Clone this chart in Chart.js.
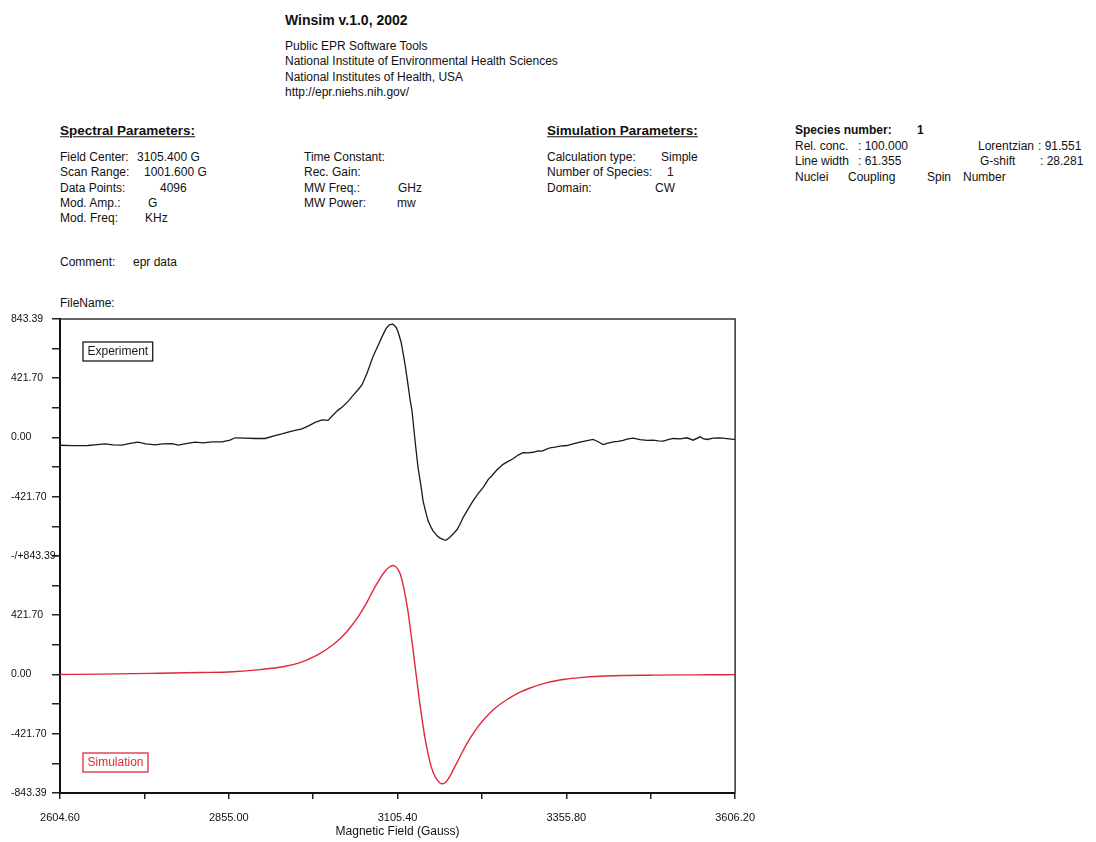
<!DOCTYPE html>
<html>
<head>
<meta charset="utf-8">
<title>Winsim EPR spectrum</title>
<script src="https://cdn.jsdelivr.net/npm/chart.js@4.4.1/dist/chart.umd.min.js"></script>
<style>
  body { margin: 0; background: #fff; width: 1096px; height: 842px; overflow: hidden; position: relative;
         font-family: "Liberation Sans", Arial, Helvetica, sans-serif; color: #111; }
  .t { position: absolute; font-size: 12px; line-height: 1; white-space: pre; transform: translateY(-50%); }
  .b { font-weight: bold; }
  .h { font-weight: bold; font-size: 13.5px; text-decoration: underline; }
  #wrap { position: absolute; left: 0; top: 305px; width: 767px; height: 537px; }
</style>
</head>
<body>

<!-- header block -->
<div class="t b" style="left:285px; top:20px; font-size:14px;">Winsim v.1.0, 2002</div>
<div class="t" style="left:285px; top:45.5px;">Public EPR Software Tools</div>
<div class="t" style="left:285px; top:61px;">National Institute of Environmental Health Sciences</div>
<div class="t" style="left:285px; top:76.5px;">National Institutes of Health, USA</div>
<div class="t" style="left:285px; top:92px;">http://epr.niehs.nih.gov/</div>

<!-- spectral parameters -->
<div class="t h" style="left:60px; top:131px;">Spectral Parameters:</div>
<div class="t" style="left:60px; top:157px;">Field Center:</div><div class="t" style="left:137px; top:157px;">3105.400 G</div>
<div class="t" style="left:60px; top:172px;">Scan Range:</div><div class="t" style="left:144px; top:172px;">1001.600 G</div>
<div class="t" style="left:60px; top:188px;">Data Points:</div><div class="t" style="left:160px; top:188px;">4096</div>
<div class="t" style="left:60px; top:203px;">Mod. Amp.:</div><div class="t" style="left:148px; top:203px;">G</div>
<div class="t" style="left:60px; top:218px;">Mod. Freq:</div><div class="t" style="left:145px; top:218px;">KHz</div>
<div class="t" style="left:304px; top:157px;">Time Constant:</div>
<div class="t" style="left:304px; top:172px;">Rec. Gain:</div>
<div class="t" style="left:304px; top:188px;">MW Freq.:</div><div class="t" style="left:398px; top:188px;">GHz</div>
<div class="t" style="left:304px; top:203px;">MW Power:</div><div class="t" style="left:397px; top:203px;">mw</div>
<div class="t" style="left:60px; top:262px;">Comment:</div><div class="t" style="left:133px; top:262px;">epr data</div>
<div class="t" style="left:60px; top:303px;">FileName:</div>

<!-- simulation parameters -->
<div class="t h" style="left:547px; top:131px;">Simulation Parameters:</div>
<div class="t" style="left:547px; top:157px;">Calculation type:</div><div class="t" style="left:661px; top:157px;">Simple</div>
<div class="t" style="left:547px; top:172px;">Number of Species:</div><div class="t" style="left:667px; top:172px;">1</div>
<div class="t" style="left:547px; top:188px;">Domain:</div><div class="t" style="left:655px; top:188px;">CW</div>

<!-- species -->
<div class="t b" style="left:795px; top:130px;">Species number:</div><div class="t b" style="left:917px; top:130px;">1</div>
<div class="t" style="left:795px; top:146px;">Rel. conc.</div><div class="t" style="left:858px; top:146px;">: 100.000</div>
<div class="t" style="left:978px; top:146px;">Lorentzian</div><div class="t" style="left:1038px; top:146px;">: 91.551</div>
<div class="t" style="left:795px; top:161px;">Line width</div><div class="t" style="left:858px; top:161px;">: 61.355</div>
<div class="t" style="left:980px; top:161px;">G-shift</div><div class="t" style="left:1040px; top:161px;">: 28.281</div>
<div class="t" style="left:795px; top:177px;">Nuclei</div><div class="t" style="left:848px; top:177px;">Coupling</div>
<div class="t" style="left:927px; top:177px;">Spin</div><div class="t" style="left:963px; top:177px;">Number</div>

<div id="wrap"><canvas id="eprChart" width="767" height="537"></canvas></div>

<script>
// measured spectrum: magnetic field (G) and signal
const expField = [2604.6, 2622.4, 2646.1, 2659.5, 2671.4, 2683.2, 2696.6, 2708.5, 2720.3, 2732.2,
  2745.6, 2757.4, 2770.8, 2779.7, 2791.6, 2804.9, 2816.8, 2830.2, 2845.0, 2856.9,
  2864.3, 2879.1, 2894.0, 2908.8, 2923.6, 2934.0, 2942.9, 2953.3, 2963.7, 2974.1,
  2983.0, 2993.4, 3002.3, 3009.7, 3017.1, 3023.0, 3032.0, 3039.4, 3046.8, 3052.7,
  3060.1, 3069.0, 3076.5, 3082.4, 3088.3, 3092.8, 3098.3, 3103.2, 3106.1, 3110.6,
  3113.6, 3116.5, 3119.5, 3124.0, 3126.9, 3131.4, 3135.8, 3140.3, 3143.2, 3147.7,
  3150.7, 3155.1, 3158.1, 3164.0, 3168.5, 3174.4, 3177.4, 3181.8, 3187.8, 3193.7,
  3198.1, 3202.6, 3208.5, 3213.0, 3217.4, 3224.9, 3232.3, 3239.7, 3245.6, 3253.0,
  3262.0, 3269.4, 3276.8, 3284.2, 3291.6, 3299.0, 3306.5, 3313.9, 3319.8, 3325.8,
  3331.7, 3339.1, 3346.5, 3356.9, 3365.8, 3376.2, 3386.6, 3395.5, 3402.9, 3410.3,
  3417.8, 3425.2, 3432.6, 3440.0, 3447.4, 3454.8, 3465.2, 3475.6, 3484.5, 3491.9,
  3499.4, 3506.8, 3514.2, 3524.6, 3535.0, 3543.9, 3554.3, 3558.7, 3564.7, 3573.6,
  3583.9, 3594.3, 3603.2, 3606.2];
const expSignal = [-55, -58, -57, -50, -45, -52, -54, -42, -33, -45,
  -52, -46, -43, -54, -44, -33, -38, -31, -31, -18,
  -2, -5, -7, -7, 14, 25, 38, 50, 62, 85,
  108, 125, 122, 160, 195, 215, 257, 300, 340, 376,
  458, 576, 655, 718, 775, 800, 808, 785, 753, 680,
  600, 520, 423, 270, 187, -26, -215, -350, -451, -540,
  -593, -640, -664, -700, -716, -728, -730, -715, -687, -655,
  -617, -570, -522, -485, -451, -400, -357, -300, -270, -230,
  -191, -170, -151, -125, -108, -110, -105, -95, -97, -85,
  -73, -68, -62, -57, -45, -33, -22, -14, -30, -50,
  -40, -31, -28, -21, -10, -5, -15, -21, -18, -24,
  -26, -15, -7, -10, -2, -19, 5, -8, -14, -5,
  -2, -8, -14, -14];

// simulated spectrum
const simField = [2604.6, 2664.0, 2738.1, 2812.3, 2861.3, 2901.4, 2935.5, 2960.7, 2986.0, 3009.7,
  3023.0, 3034.9, 3046.8, 3060.1, 3067.6, 3075.0, 3080.9, 3086.9, 3092.8, 3098.3,
  3103.2, 3109.1, 3113.6, 3116.5, 3121.0, 3124.0, 3128.4, 3131.4, 3135.8, 3138.8,
  3143.2, 3146.2, 3150.7, 3153.6, 3158.1, 3164.0, 3171.0, 3175.9, 3180.3, 3186.3,
  3193.7, 3201.1, 3208.5, 3216.0, 3223.4, 3230.8, 3238.2, 3247.1, 3257.5, 3267.9,
  3276.8, 3287.2, 3302.0, 3327.2, 3353.9, 3376.2, 3405.9, 3443.0, 3480.1, 3524.6,
  3569.1, 3606.2];
const simSignal = [0, 3, 8, 14, 20, 35, 55, 85, 138, 212,
  268, 333, 410, 515, 585, 648, 695, 735, 763, 776,
  766, 718, 640, 570, 445, 340, 175, 60, -110, -220,
  -365, -455, -565, -625, -695, -748, -778, -770, -745, -695,
  -625, -555, -490, -432, -380, -335, -295, -253, -212, -178,
  -152, -126, -96, -58, -34, -22, -12, -7, -5, -3,
  -2, -1];

// axis ticks and their labels
const xTicks = [2604.6, 2855.0, 3105.4, 3355.8, 3606.2];
const xMinorTicks = [2729.8, 2980.2, 3230.6, 3481.0];
const xTickLabels = ['2604.60', '2855.00', '3105.40', '3355.80', '3606.20'];
const yTicks = [-843.39, -421.70, 0, 421.70, 843.39];
const yMinorTicks = [-632.54, -210.85, 210.85, 632.54];
const yTopLabels = ['', '-421.70', '0.00', '421.70', '843.39'];
const yBottomLabels = ['-843.39', '-421.70', '0.00', '421.70', '-/+843.39'];

const FONT = '"Liberation Sans", Arial, Helvetica, sans-serif';

function toPoints(xs, ys) {
  return xs.map((x, i) => ({ x: x, y: ys[i] }));
}

// one of the two stacked panels on the left
function panelAxis(labels, weight) {
  return {
    type: 'linear',
    position: 'left',
    stack: 'panels',
    stackWeight: 1,
    weight: weight,
    min: -843.39,
    max: 843.39,
    afterBuildTicks: axis => {
      axis.ticks = yTicks.concat(yMinorTicks).sort((a, b) => a - b).map(v => ({ value: v }));
    },
    afterFit: axis => { axis.width = 49; },
    ticks: {
      autoSkip: false,
      crossAlign: 'far',
      color: '#111',
      font: { family: FONT, size: 10.5 },
      callback: v => {
        const i = yTicks.indexOf(v);
        return i < 0 ? '' : labels[i];
      }
    },
    grid: { drawOnChartArea: false, tickLength: 8, color: '#222', lineWidth: 1.5 },
    border: { color: '#111', width: 2 }
  };
}

// top/right frame lines and the boxed series names
const frameAndNames = {
  id: 'frameAndNames',
  afterDatasetsDraw(chart) {
    const ctx = chart.ctx;
    const area = chart.chartArea;
    ctx.save();
    ctx.strokeStyle = '#333';
    ctx.lineWidth = 1.5;
    ctx.beginPath();
    ctx.moveTo(area.left, area.top);
    ctx.lineTo(area.right, area.top);
    ctx.lineTo(area.right, area.bottom);
    ctx.stroke();

    ctx.font = '12px ' + FONT;
    ctx.textBaseline = 'middle';
    chart.data.datasets.forEach((ds, i) => {
      const s = chart.scales[ds.yAxisID];
      const w = ctx.measureText(ds.label).width + 9;
      const h = 19;
      const x = area.left + 23;
      const y = i === 0 ? s.top + 23 : s.bottom - 40;
      ctx.strokeStyle = ds.borderColor;
      ctx.lineWidth = 1.3;
      ctx.strokeRect(x, y, w, h);
      ctx.fillStyle = ds.borderColor;
      ctx.fillText(ds.label, x + 4.5, y + h / 2 + 0.5);
    });
    ctx.restore();
  }
};

const ctx = document.getElementById('eprChart').getContext('2d');
new Chart(ctx, {
  type: 'line',
  data: {
    datasets: [{
      label: 'Experiment',
      data: toPoints(expField, expSignal),
      yAxisID: 'yTop',
      borderColor: '#1a1a1a',
      borderWidth: 1.3,
      pointRadius: 0,
      tension: 0
    }, {
      label: 'Simulation',
      data: toPoints(simField, simSignal),
      yAxisID: 'yBottom',
      borderColor: '#e0283a',
      borderWidth: 1.4,
      pointRadius: 0,
      cubicInterpolationMode: 'monotone'
    }]
  },
  options: {
    responsive: false,
    animation: false,
    layout: { padding: { left: 11, right: 0, top: 14, bottom: 0 } },
    plugins: { legend: { display: false }, tooltip: { enabled: false } },
    scales: {
      x: {
        type: 'linear',
        min: 2604.6,
        max: 3606.2,
        afterBuildTicks: axis => {
          axis.ticks = xTicks.concat(xMinorTicks).sort((a, b) => a - b).map(v => ({ value: v }));
        },
        afterFit: axis => { axis.height = 49; },
        ticks: {
          autoSkip: false,
          maxRotation: 0,
          padding: 12,
          color: '#111',
          font: { family: FONT, size: 11 },
          callback: v => {
            const i = xTicks.indexOf(v);
            return i < 0 ? '' : xTickLabels[i];
          }
        },
        grid: { drawOnChartArea: false, tickLength: 6, color: '#222', lineWidth: 1.5 },
        border: { color: '#111', width: 2 },
        title: {
          display: true,
          text: 'Magnetic Field (Gauss)',
          color: '#111',
          font: { family: FONT, size: 12 },
          padding: { top: 0, bottom: 3 }
        }
      },
      yTop: panelAxis(yTopLabels, 1),
      yBottom: panelAxis(yBottomLabels, 0)
    }
  },
  plugins: [frameAndNames]
});
</script>
</body>
</html>
